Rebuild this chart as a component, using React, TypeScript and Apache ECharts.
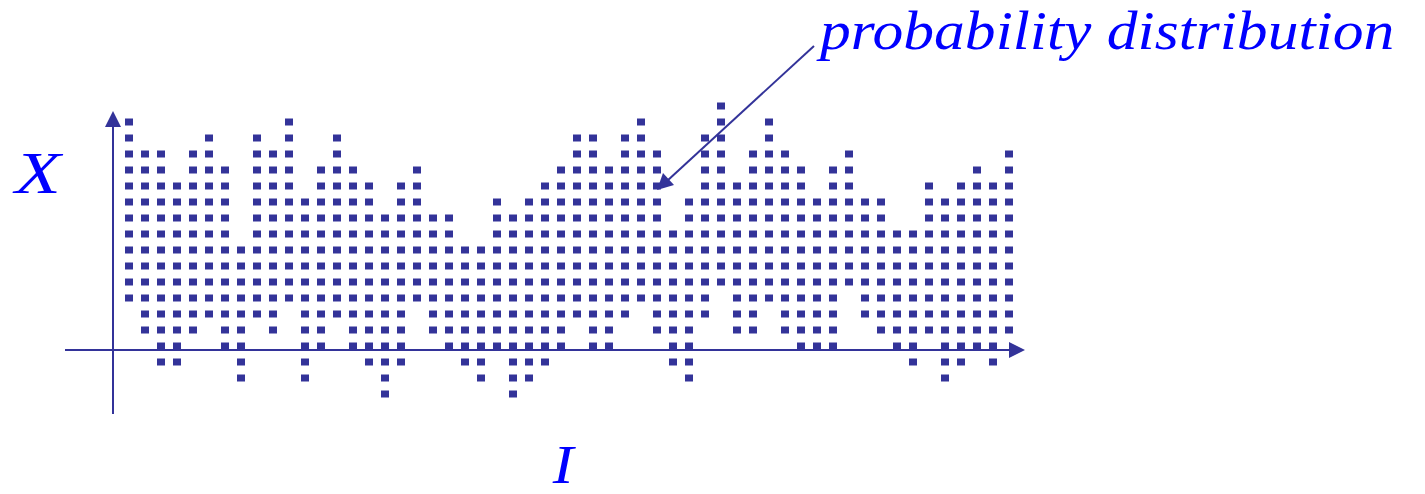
import React, { useEffect, useRef } from "react";
import * as echarts from "echarts";

// Each column I of the distribution: lowest and highest occupied row of X.
const columnBottom = [
  3, 1, -1, -1, 1, 2, 0, -2, 2, 1, 3, -2, 0, 2, 0, -1, -3, -1, 3, 1, 0, -1, -2, 0, -3, -2, -1, 0,
  2, 0, 0, 2, 3, 1, -1, -2, 2, 4, 1, 1, 3, 1, 0, 0, 0, 4, 2, 1, 0, -1, 1, -2, -1, 0, -1, 1,
];
const columnTop = [
  14, 12, 12, 10, 12, 13, 11, 6, 13, 12, 14, 9, 11, 13, 11, 10, 8, 10, 11, 8, 8, 6, 6, 9, 8, 9, 10, 11,
  13, 13, 11, 13, 14, 12, 7, 9, 13, 15, 10, 12, 14, 12, 11, 9, 11, 12, 9, 9, 7, 7, 10, 9, 10, 11, 10, 12,
];

const axisLabelX = "X";
const axisLabelI = "I";
const annotationText = "probability distribution";

const DOT = "#333399";
const TEXT = "#0000ff";

export default function App() {
  const ref = useRef<HTMLDivElement | null>(null);

  useEffect(() => {
    if (!ref.current) return;
    const chart = echarts.init(ref.current, undefined, { renderer: "svg" });

    const points: [number, number][] = [];
    columnBottom.forEach((lo, i) => {
      for (let r = lo; r <= columnTop[i]; r++) points.push([i, r]);
    });

    const serif = '"Liberation Serif", "Times New Roman", serif';

    chart.setOption({
      animation: false,
      backgroundColor: "#ffffff",
      grid: { left: 65, top: 74, width: 960, height: 352 },
      xAxis: { type: "value", min: -4, max: 56, show: false },
      yAxis: { type: "value", min: -5, max: 17, show: false },
      series: [
        {
          type: "scatter",
          data: points,
          symbol: "rect",
          symbolSize: [8, 7],
          itemStyle: { color: DOT, opacity: 1 },
          silent: true,
          markLine: {
            silent: true,
            symbol: ["none", "triangle"],
            symbolSize: 16,
            label: { show: false },
            lineStyle: { color: DOT, width: 2, type: "solid", opacity: 1 },
            emphasis: { disabled: true },
            data: [
              [{ coord: [-4, -0.25] }, { coord: [55.5, -0.25] }],
              [{ coord: [-1, -4.25] }, { coord: [-1, 14.1875] }],
            ],
          },
        },
      ],
      graphic: [
        {
          type: "line",
          shape: { x1: 814, y1: 46, x2: 667, y2: 181 },
          style: { stroke: DOT, lineWidth: 2 },
          silent: true,
        },
        {
          type: "polygon",
          shape: { points: [[657, 190], [674, 185], [663, 173]] },
          style: { fill: DOT },
          silent: true,
        },
        {
          type: "text",
          x: 38,
          y: 173,
          scaleX: 1.25,
          style: {
            text: axisLabelX,
            fill: TEXT,
            fontSize: 60,
            fontStyle: "italic",
            fontFamily: serif,
            align: "center",
            verticalAlign: "middle",
          },
          silent: true,
        },
        {
          type: "text",
          x: 563,
          y: 465,
          scaleX: 1.15,
          style: {
            text: axisLabelI,
            fill: TEXT,
            fontSize: 54,
            fontStyle: "italic",
            fontFamily: serif,
            align: "center",
            verticalAlign: "middle",
          },
          silent: true,
        },
        {
          type: "text",
          x: 820,
          y: 31,
          scaleX: 1.12,
          style: {
            text: annotationText,
            fill: TEXT,
            fontSize: 55,
            fontStyle: "italic",
            fontFamily: serif,
            align: "left",
            verticalAlign: "middle",
          },
          silent: true,
        },
      ],
    });

    return () => chart.dispose();
  }, []);

  return (
    <div
      ref={ref}
      style={{ position: "fixed", left: 0, top: 0, width: 1425, height: 494 }}
    />
  );
}
